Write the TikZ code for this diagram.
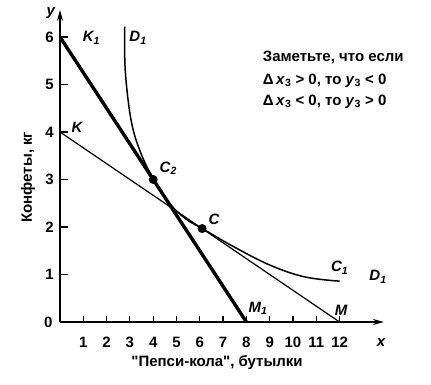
\documentclass[tikz,border=0pt]{standalone}
\usepackage{fontspec}
\setmainfont{Liberation Sans}
\usepackage{tikz}
\usetikzlibrary{arrows.meta}
\usetikzlibrary{positioning}

\tikzset{
	axis/.style={line width=1.4pt, -{Stealth[length=11pt, width=6pt]}},
	budget/.style={line width=1.2pt},
	budgetbold/.style={line width=3.4pt},
	indiff/.style={line width=1.5pt},
	dot/.style={circle, fill, inner sep=0pt, minimum size=9pt},
	lbl/.style={font=\fontsize{15}{17}\selectfont\bfseries\itshape, inner sep=1pt},
	num/.style={font=\fontsize{15}{17}\selectfont\bfseries, inner sep=1pt},
	note/.style={font=\fontsize{15}{17}\selectfont\bfseries, inner sep=0pt, anchor=west}
}

\begin{document}
\begin{tikzpicture}[x=23.3pt, y=47.5pt]
	
	\useasboundingbox (-2.575,-1.326) rectangle (15.923,6.779);
	
	\coordinate (O) at (0,0);
	\coordinate (xend) at (13.9,0);
	\coordinate (yend) at (0,6.57);
	
	\draw[axis] (O) -- (xend);
	\draw[axis] (O) -- (yend);
	
	\foreach \i in {1,...,12}
		\draw[line width=1.2pt] (\i,0) -- (\i,0.12);
	\foreach \i in {1,...,12}
		\node[num] (xt\i) at (\i,-0.42) {\i};
	\foreach \j in {1,...,6}
		\draw[line width=1.2pt] (0,\j) -- (0.35,\j);
	\foreach \j in {1,...,6}
		\node[num] (yt\j) at (-0.45,\j) {\j};
	\node[num] (zero) at (-0.5,0) {0};
	
	\node[lbl] (xlab) at (13.78,-0.44) {x};
	\node[lbl] (ylab) at (-0.4,6.5) {y};
	
	\coordinate (K1) at (0,6);
	\coordinate (M1) at (8,0);
	\coordinate (K) at (0,4);
	\coordinate (M) at (12,0);
	
	\draw[budget] (K) -- (M);
	\draw[budgetbold] (K1) -- (M1);
	
	\draw[indiff] plot[smooth, tension=0.6] coordinates {
		(2.78,6.22) (2.8,5.3) (3.05,4.25) (3.45,3.58) (4,3.02) (4.7,2.5)
		(5.4,2.17) (6.1,1.97) (7.4,1.6) (9,1.2) (10.5,0.95) (12,0.86)};
	
	\node[dot] (C2) at (4,3) {};
	\node[dot] (C) at (6.1,1.967) {};
	
	\node[lbl] (K1lab) at (1.35,5.98) {K\textsubscript{1}};
	\node[lbl] (D1top) at (3.35,5.98) {D\textsubscript{1}};
	\node[lbl] (Klab) at (0.73,4.1) {K};
	\node[lbl, above right=0pt and 2pt of C2] (C2lab) {C\textsubscript{2}};
	\node[lbl, above right=-1pt and 2pt of C] (Clab) {C};
	\node[lbl] (C1lab) at (12.0,1.14) {C\textsubscript{1}};
	\node[lbl] (D1right) at (13.65,0.95) {D\textsubscript{1}};
	\node[lbl] (M1lab) at (8.5,0.29) {M\textsubscript{1}};
	\node[lbl] (Mlab) at (12.06,0.25) {M};
	
	\node[note] (note1) at (8.7,5.58) {Заметьте, что если};
	\node[note, below=10pt of note1.south west, anchor=north west] (note2)
		{Δ\,\textit{x}\textsubscript{3} > 0, то \textit{y}\textsubscript{3} < 0};
	\node[note, below=7pt of note2.south west, anchor=north west] (note3)
		{Δ\,\textit{x}\textsubscript{3} < 0, то \textit{y}\textsubscript{3} > 0};
	
	\node[num, rotate=90] (ytitle) at (-1.37,3.05) {Конфеты, кг};
	\node[num] (xtitle) at (6.74,-0.86) {\textquotedbl Пепси-кола\textquotedbl, бутылки};
	
\end{tikzpicture}
\end{document}
